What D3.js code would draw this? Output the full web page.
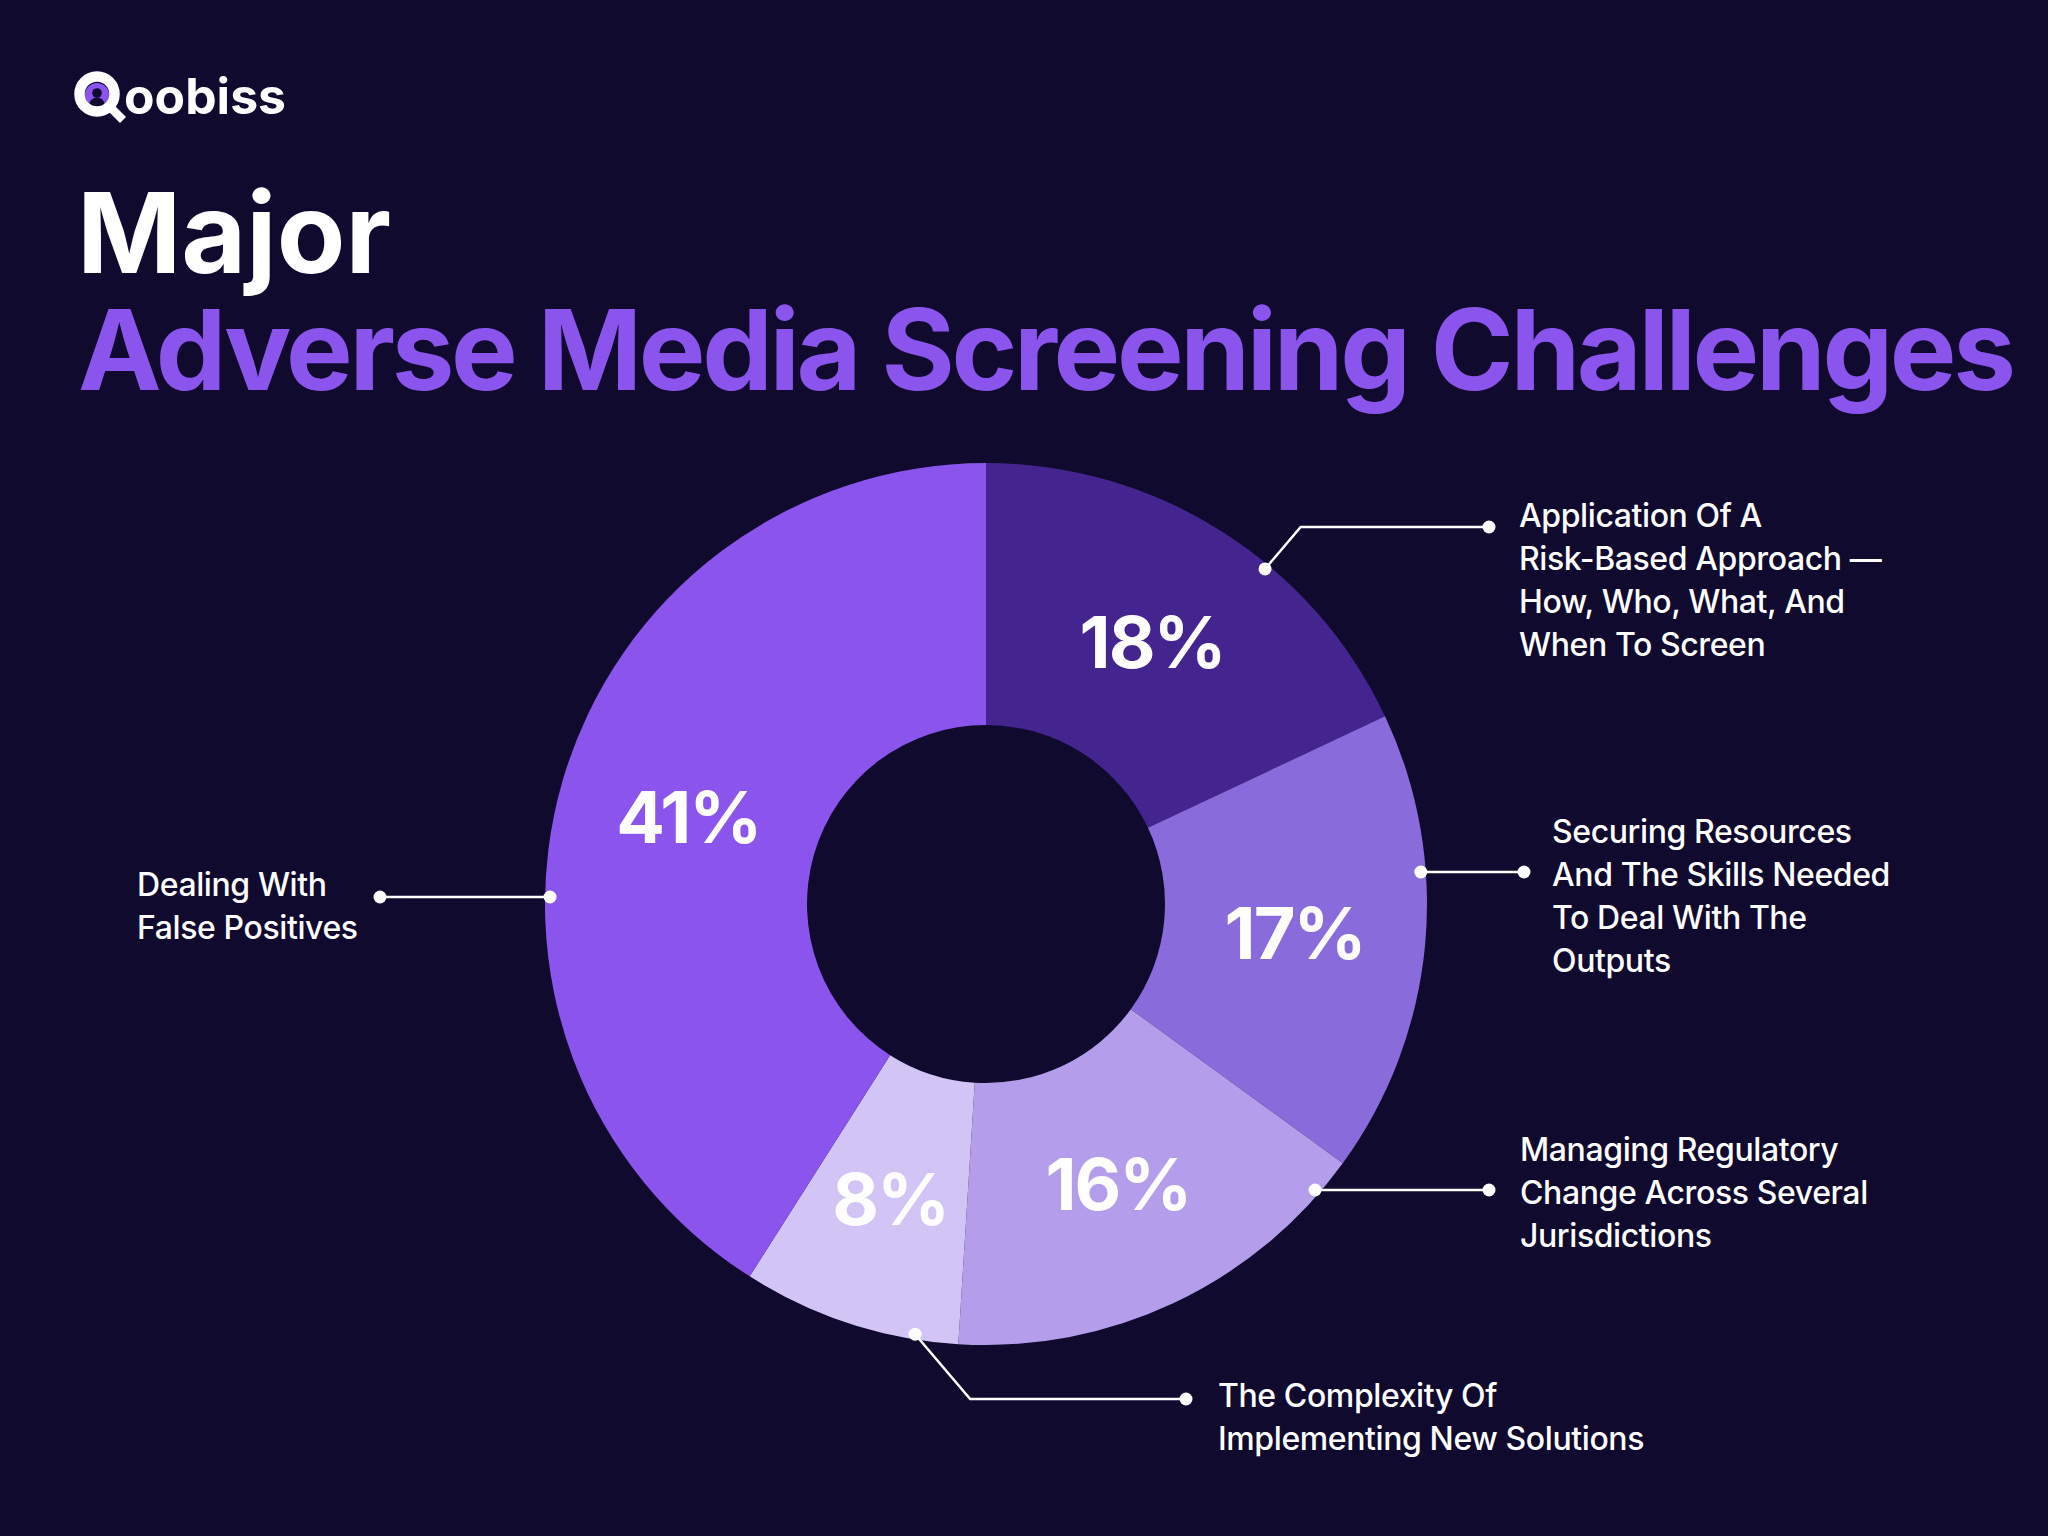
<!DOCTYPE html>
<html>
<head>
<meta charset="utf-8">
<script src="https://cdn.jsdelivr.net/npm/d3@7"></script>
<style>
  html, body { margin: 0; padding: 0; background: #0f0a2e; }
  svg { display: block; }
</style>
</head>
<body>
<script>
/* donut: adverse media screening challenges */

// data, clockwise from 12 o'clock
const categories = [
	["Application Of A", "Risk-Based Approach \u2014", "How, Who, What, And", "When To Screen"],
	["Securing Resources", "And The Skills Needed", "To Deal With The", "Outputs"],
	["Managing Regulatory", "Change Across Several", "Jurisdictions"],
	["The Complexity Of", "Implementing New Solutions"],
	["Dealing With", "False Positives"]
];
const values = [18, 17, 16, 8, 41];
const sliceColors = ["#44258f", "#8a6bdb", "#b49eec", "#d2c4f5", "#8b55ed"];
const titleLines = ["Major", "Adverse Media Screening Challenges"];

// callout layout (pixels), same order as categories
const callouts = [
	{kind: "elbow", t: 0.614, y: 527, endX: 1489, textX: 1519, base: 527},
	{kind: "flat", side: 1, y: 872, endX: 1524, textX: 1552, base: 843},
	{kind: "flat", side: 1, y: 1190, endX: 1489, textX: 1520, base: 1161},
	{kind: "elbow", t: 0.2, y: 1399, endX: 1186, textX: 1218, base: 1407},
	{kind: "flat", side: -1, y: 897, endX: 380, textX: 137, base: 896}
];

const W = 2048, H = 1536;
const cx = 986, cy = 904;
const rIn = 179, rOut = 441, rDot = 436;
const white = "#ffffff";
const purple = "#8b55ed";
const bg = "#0f0a2e";

const svg = d3.select("body").append("svg")
	.attr("width", W)
	.attr("height", H);

svg.append("rect")
	.attr("width", W)
	.attr("height", H)
	.attr("fill", bg);

// logo
const qx = 97, qy = 94;
const logo = svg.append("g");
logo.append("defs").append("clipPath").attr("id", "qClip")
	.append("circle").attr("cx", qx).attr("cy", qy).attr("r", 12.5);
const qIn = logo.append("g").attr("clip-path", "url(#qClip)");
qIn.append("circle").attr("cx", qx).attr("cy", qy + 1).attr("r", 12).attr("fill", purple);
qIn.append("circle").attr("cx", qx).attr("cy", qy - 1).attr("r", 4.8).attr("fill", bg);
qIn.append("ellipse").attr("cx", qx).attr("cy", qy + 10.5).attr("rx", 7.5).attr("ry", 7).attr("fill", bg);
logo.append("circle")
	.attr("cx", qx).attr("cy", qy).attr("r", 17.5)
	.attr("fill", "none")
	.attr("stroke", white)
	.attr("stroke-width", 10.5);
logo.append("line")
	.attr("x1", 111).attr("y1", 108).attr("x2", 123).attr("y2", 120)
	.attr("stroke", white)
	.attr("stroke-width", 8.5);
logo.append("text")
	.attr("x", 124).attr("y", 114)
	.attr("font-family", "Inter, sans-serif")
	.attr("font-weight", 700)
	.attr("font-size", 50)
	.attr("fill", white)
	.attr("textLength", 162)
	.attr("lengthAdjust", "spacingAndGlyphs")
	.text("oobiss");

// title, two lines in one text block
const title = svg.append("text")
	.attr("font-family", "Inter, sans-serif")
	.attr("font-weight", 700)
	.attr("font-size", 112);
title.append("tspan")
	.attr("x", 77).attr("y", 273)
	.attr("fill", white)
	.text(titleLines[0]);
const sub = title.append("tspan")
	.attr("x", 78).attr("y", 390)
	.attr("fill", purple)
	.text(titleLines[1]);
// tighten tracking so the line ends where the reference does
const natural = sub.node().getComputedTextLength();
sub.attr("letter-spacing", (1938 - natural) / (titleLines[1].length - 1));

// donut
const pie = d3.pie().sort(null).value(d => d);
const arcs = pie(values);
const arc = d3.arc().innerRadius(rIn).outerRadius(rOut);
const labelArc = d3.arc().innerRadius((rIn + rOut) / 2).outerRadius((rIn + rOut) / 2);

const chart = svg.append("g").attr("transform", `translate(${cx},${cy})`);

chart.selectAll("path.slice")
	.data(arcs)
	.join("path")
	.attr("class", "slice")
	.attr("d", arc)
	.attr("fill", (d, i) => sliceColors[i]);

chart.selectAll("text.pct")
	.data(arcs)
	.join("text")
	.attr("class", "pct")
	.attr("transform", d => `translate(${labelArc.centroid(d)})`)
	.attr("text-anchor", "middle")
	.attr("dy", "0.36em")
	.attr("font-family", "Inter, sans-serif")
	.attr("font-weight", 700)
	.attr("font-size", 72)
	.attr("letter-spacing", -2)
	.attr("fill", white)
	.text(d => d.data + "%");

// callouts
function anchorOf(d, c) {
	if (c.kind === "flat") {
		const dy = c.y - cy;
		return [cx + c.side * Math.sqrt(rDot * rDot - dy * dy), c.y];
	}
	const a = d.startAngle + c.t * (d.endAngle - d.startAngle);
	return [cx + rDot * Math.sin(a), cy - rDot * Math.cos(a)];
}

const notes = svg.append("g");
arcs.forEach((d, i) => {
	const c = callouts[i];
	const p = anchorOf(d, c);
	let pts;
	if (c.kind === "flat") {
		pts = [p, [c.endX, c.y]];
	} else {
		const dy = Math.abs(c.y - p[1]);
		pts = [p, [p[0] + dy * 0.85, c.y], [c.endX, c.y]];
	}
	notes.append("path")
		.attr("d", d3.line()(pts))
		.attr("fill", "none")
		.attr("stroke", white)
		.attr("stroke-width", 2.5);
	notes.append("circle").attr("cx", p[0]).attr("cy", p[1]).attr("r", 6.5).attr("fill", white);
	notes.append("circle").attr("cx", c.endX).attr("cy", c.y).attr("r", 6.5).attr("fill", white);

	const t = notes.append("text")
		.attr("font-family", "Inter, sans-serif")
		.attr("font-weight", 500)
		.attr("font-size", 32)
		.attr("letter-spacing", -0.4)
		.attr("fill", white);
	categories[i].forEach((line, k) => {
		t.append("tspan")
			.attr("x", c.textX)
			.attr("y", c.base + k * 43)
			.text(line);
	});
});
</script>
</body>
</html>
